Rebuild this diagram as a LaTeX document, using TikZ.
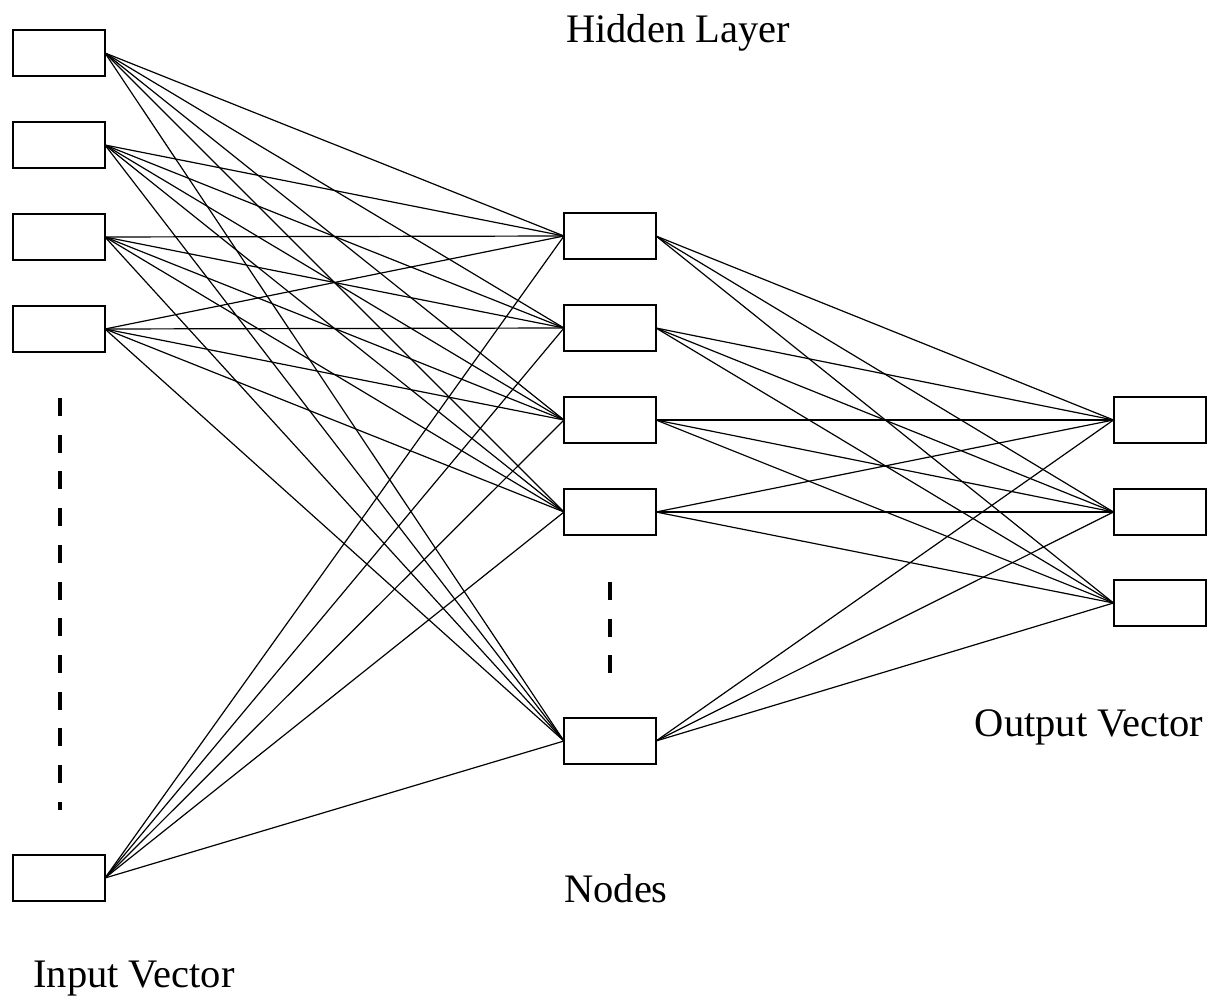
\documentclass[tikz,border=0pt]{standalone}
\usepackage{fontspec}
\setmainfont{Liberation Serif}
\begin{document}
\begin{tikzpicture}[x=0.5pt,y=-0.5pt,
  box/.style={draw,line width=1pt,minimum width=46pt,minimum height=23pt,inner sep=0pt,outer sep=0pt},
  link/.style={line width=0.6pt},
  dots/.style={line width=2.2pt,dash pattern=on 9pt off 9.35pt},
  lbl/.style={font=\fontsize{20.25}{24}\selectfont,anchor=base,inner sep=0pt}]
\useasboundingbox (0,0) rectangle (1212,1006);
% input layer
\node[box] (i1) at (59,53) {};
\node[box] (i2) at (59,145) {};
\node[box] (i3) at (59,237) {};
\node[box] (i4) at (59,329) {};
\node[box] (i5) at (59,878) {};
% hidden layer
\node[box] (h1) at (610,236) {};
\node[box] (h2) at (610,328) {};
\node[box] (h3) at (610,420) {};
\node[box] (h4) at (610,512) {};
\node[box] (h5) at (610,741) {};
% output layer
\node[box] (o1) at (1159.5,420) {};
\node[box] (o2) at (1159.5,512) {};
\node[box] (o3) at (1159.5,603) {};
% connections
\foreach \a in {1,...,5}
  \foreach \b in {1,...,5}
    \draw[link] (i\a.east) -- (h\b.west);
\foreach \a in {1,...,5}
  \foreach \b in {1,...,3}
    \draw[link] (h\a.east) -- (o\b.west);
% ellipsis dashes
\coordinate (d1a) at (60,398);
\coordinate (d1b) at (60,810);
\draw[dots] (d1a) -- (d1b);
\coordinate (d2a) at (610,582);
\coordinate (d2b) at (610,676);
\draw[dots] (d2a) -- (d2b);
% labels
\node[lbl] (thidden) at (678,43) {Hidden Layer};
\node[lbl] (tnodes) at (616,902) {Nodes};
\node[lbl] (toutput) at (1089,736) {Output Vector};
\node[lbl] (tinput) at (134,987) {Input Vector};
\end{tikzpicture}
\end{document}
